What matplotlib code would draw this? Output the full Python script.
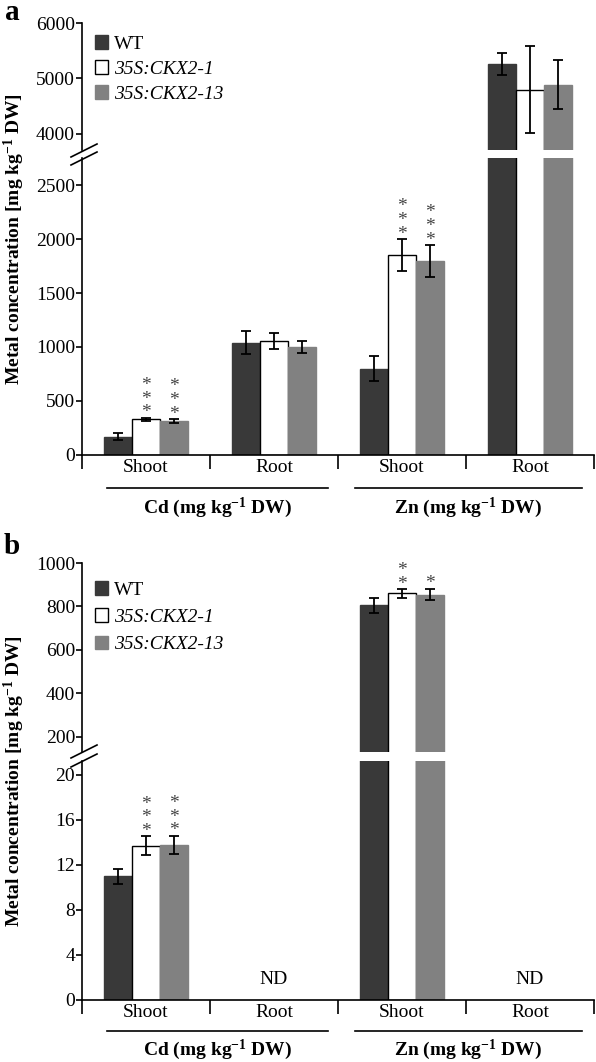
import matplotlib
matplotlib.use('Agg')
import matplotlib.pyplot as plt
from matplotlib.patches import Patch
from matplotlib.lines import Line2D
import numpy as np

plt.rcParams['font.family'] = ['Liberation Serif', 'DejaVu Serif']
plt.rcParams['mathtext.fontset'] = 'custom'
plt.rcParams['mathtext.rm'] = 'Liberation Serif'
plt.rcParams['mathtext.it'] = 'Liberation Serif:italic'
plt.rcParams['mathtext.bf'] = 'Liberation Serif:bold'

# ---------------- data ----------------
tissues = ['Shoot', 'Root', 'Shoot', 'Root']
metals = [r'Cd (mg kg$^{\mathbf{-1}}$ DW)', r'Zn (mg kg$^{\mathbf{-1}}$ DW)']
series = ['WT', '35S:CKX2-1', '35S:CKX2-13']
colors = ['#393939', '#ffffff', '#818181']

# panel a
a_wt = [170, 1040, 800, 5260]
a_wt_err = [35, 105, 115, 200]
a_l1 = [330, 1055, 1850, 4800]
a_l1_err = [15, 75, 150, 780]
a_l13 = [315, 1000, 1795, 4890]
a_l13_err = [20, 55, 150, 445]
a_sig = [['', '', '', ''], ['***', '', '***', ''], ['***', '', '***', '']]
a_nd = [False, False, False, False]

# panel b (Root not detected)
b_wt = [11.0, 0, 805, 0]
b_wt_err = [0.65, 0, 33, 0]
b_l1 = [13.7, 0, 860, 0]
b_l1_err = [0.85, 0, 20, 0]
b_l13 = [13.8, 0, 855, 0]
b_l13_err = [0.8, 0, 27, 0]
b_sig = [['', '', '', ''], ['***', '', '**', ''], ['***', '', '*', '']]
b_nd = [False, True, False, True]

# ---------------- figure ----------------
W, H = 596, 1062
fig = plt.figure(figsize=(W / 100, H / 100), dpi=100)


def px_axes(x0, y0, x1, y1):
    return fig.add_axes([x0 / W, 1 - y1 / H, (x1 - x0) / W, (y1 - y0) / H])


TICK_FS = 14
LW = 1.2
BW = 0.22


def style_axes(ax, lower):
    ax.set_xlim(-0.5, 3.5)
    ax.spines['top'].set_visible(False)
    ax.spines['right'].set_visible(False)
    ax.spines['left'].set_linewidth(LW)
    ax.spines['bottom'].set_linewidth(LW)
    ax.tick_params(axis='y', direction='out', length=4, width=LW, labelsize=TICK_FS, pad=1)
    if lower:
        ax.set_xticks([-0.5, 0.5, 1.5, 2.5, 3.5])
        ax.set_xticklabels([])
        ax.tick_params(axis='x', which='major', direction='out', length=10, width=LW)
        ax.set_xticks([0, 1, 2, 3], minor=True)
        ax.set_xticklabels(tissues, minor=True, fontsize=TICK_FS)
        ax.tick_params(axis='x', which='minor', length=0, pad=3)
    else:
        ax.spines['bottom'].set_visible(False)
        ax.set_xticks([])


def draw_panel(ax_hi, ax_lo, vals, errs, sigs, nd, nd_y):
    x = np.arange(len(tissues))
    lo_top = ax_lo.get_ylim()[1]
    keep = ~np.array(nd)
    for i, (v, e, c) in enumerate(zip(vals, errs, colors)):
        v = np.array(v, dtype=float)
        e = np.array(e, dtype=float)
        xs = x[keep] + (i - 1) * BW
        for ax in (ax_hi, ax_lo):
            ax.bar(xs, v[keep], width=BW, color=c,
                   edgecolor='black' if c == '#ffffff' else c,
                   linewidth=1.0, zorder=2)
            ax.errorbar(xs, v[keep], yerr=e[keep], fmt='none', ecolor='black',
                        elinewidth=1.3, capsize=3.5, capthick=1.3, zorder=3)
        for xi, vi, ei, s in zip(xs, v[keep], e[keep], np.array(sigs[i])[keep]):
            if not s:
                continue
            top = vi + ei
            ax = ax_lo if top < lo_top else ax_hi
            ax.annotate('\n'.join(s), xy=(xi, top), xytext=(0, -2.7),
                        textcoords='offset points', ha='center', va='bottom',
                        fontsize=14, color='#444444', linespacing=0.75,
                        annotation_clip=False)
    for g in x[np.array(nd)]:
        ax_lo.text(g, nd_y, 'ND', ha='center', va='bottom', fontsize=TICK_FS)


def legend(ax, top, spacing):
    handles = [Patch(facecolor=c, edgecolor='black' if c == '#ffffff' else c, linewidth=1.0)
               for c in colors]
    leg = ax.legend(handles, series, loc='upper left', bbox_to_anchor=(0.025, top),
                    frameon=False, fontsize=TICK_FS, handlelength=0.7, handleheight=0.7,
                    handletextpad=0.3, labelspacing=spacing, borderaxespad=0, borderpad=0)
    for t in leg.get_texts()[1:]:
        t.set_style('italic')


def break_marks(y_a, y_b):
    for (xa, ya, xb, yb) in [(71, y_a + 6, 97, y_a - 7), (71, y_b + 6, 97, y_b - 7)]:
        fig.add_artist(Line2D([xa / W, xb / W], [1 - ya / H, 1 - yb / H],
                              color='black', lw=LW))


def group_lines(y_line, y_text):
    for (x0, x1), lab in zip([(107, 328), (355, 582)], metals):
        fig.add_artist(Line2D([x0 / W, x1 / W], [1 - y_line / H] * 2, color='black', lw=LW))
        fig.text((x0 + x1) / 2 / W, 1 - y_text / H, lab, ha='center', va='center',
                 fontsize=TICK_FS, fontweight='bold')


YLABEL = r'Metal concentration [mg kg$^{\mathbf{-1}}$ DW]'

# ---- panel a ----
a_hi = px_axes(82, 23, 594, 150)
a_lo = px_axes(82, 158, 594, 455)
a_hi.set_ylim(3710, 6000)
a_hi.set_yticks([4000, 5000, 6000])
a_lo.set_ylim(0, 2750)
a_lo.set_yticks([0, 500, 1000, 1500, 2000, 2500])
style_axes(a_hi, False)
style_axes(a_lo, True)
draw_panel(a_hi, a_lo, [a_wt, a_l1, a_l13], [a_wt_err, a_l1_err, a_l13_err], a_sig, a_nd, 0)
legend(a_hi, 0.905, 0.38)
break_marks(151, 159)
group_lines(488, 508)
fig.text(14 / W, 1 - 239 / H, YLABEL, rotation=90, ha='center', va='center',
         fontsize=TICK_FS, fontweight='bold')
fig.text(12 / W, 1 - 12 / H, 'a', ha='center', va='center', fontsize=21, fontweight='bold')

# ---- panel b ----
b_hi = px_axes(82, 563, 594, 752)
b_lo = px_axes(82, 761, 594, 1000)
b_hi.set_ylim(131, 1000)
b_hi.set_yticks([200, 400, 600, 800, 1000])
b_lo.set_ylim(0, 21.24)
b_lo.set_yticks([0, 4, 8, 12, 16, 20])
style_axes(b_hi, False)
style_axes(b_lo, True)
draw_panel(b_hi, b_lo, [b_wt, b_l1, b_l13], [b_wt_err, b_l1_err, b_l13_err], b_sig, b_nd, 1.1)
legend(b_hi, 0.904, 0.5)
break_marks(752, 761)
group_lines(1031, 1050)
fig.text(14 / W, 1 - 781 / H, YLABEL, rotation=90, ha='center', va='center',
         fontsize=TICK_FS, fontweight='bold')
fig.text(12 / W, 1 - 547 / H, 'b', ha='center', va='center', fontsize=21, fontweight='bold')

fig.savefig('out.png', dpi=100)
